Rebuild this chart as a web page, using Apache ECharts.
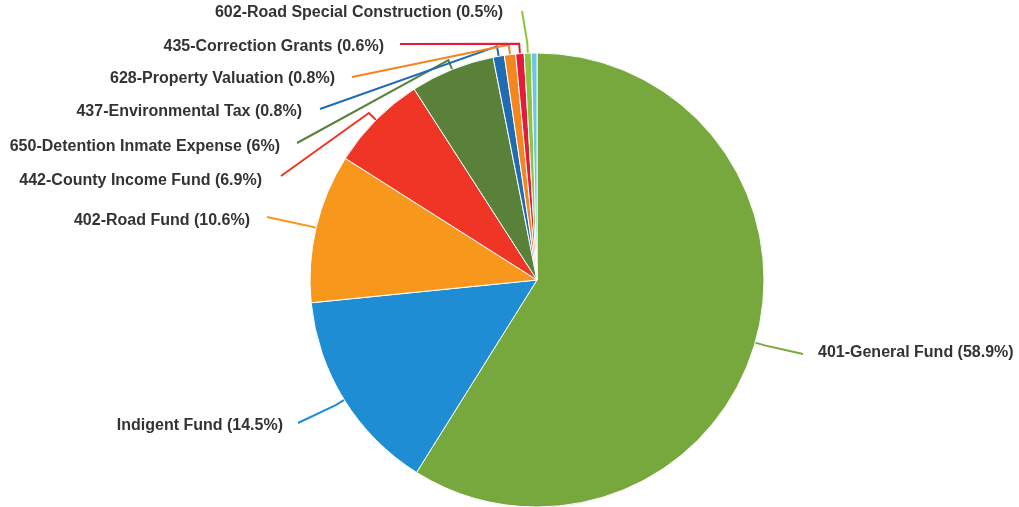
<!DOCTYPE html>
<html>
<head>
<meta charset="utf-8">
<script src="https://cdn.jsdelivr.net/npm/echarts@6/dist/echarts.min.js"></script>
<style>
  html, body { margin: 0; padding: 0; background: #fff; }
  #chart { width: 1019px; height: 507px; }
</style>
</head>
<body>
<div id="chart"></div>
<script>
const FUND_NAMES = [
  '401-General Fund',
  'Indigent Fund',
  '402-Road Fund',
  '442-County Income Fund',
  '650-Detention Inmate Expense',
  '437-Environmental Tax',
  '628-Property Valuation',
  '435-Correction Grants',
  '602-Road Special Construction',
  'Other'
]
const FUND_SHARES = [58.9, 14.5, 10.6, 6.9, 6, 0.8, 0.8, 0.6, 0.5, 0.4]
const FUND_COLORS = [
  '#77a83d', '#1f8dd3', '#f7981d', '#ef3526', '#5a813a',
  '#1f6cb3', '#f5861f', '#e11d3a', '#8cc63f', '#6cc4e6'
]

// where each label sits and where its guide line ends (left side labels are right aligned)
const LABEL_SPOTS = [
  { x: 818, y: 353, align: 'left', line: [803, 354] },
  { x: 283, y: 426, align: 'right', line: [298, 423] },
  { x: 250, y: 221, align: 'right', line: [267, 217] },
  { x: 262, y: 181, align: 'right', line: [281, 176] },
  { x: 280, y: 147, align: 'right', line: [297, 143] },
  { x: 302, y: 112, align: 'right', line: [320, 109] },
  { x: 335, y: 79, align: 'right', line: [352, 77] },
  { x: 384, y: 47, align: 'right', line: [400, 44] },
  { x: 503, y: 13, align: 'right', line: [522, 11] }
]

const chart = echarts.init(document.getElementById('chart'), null, { renderer: 'canvas' })

chart.setOption({
  backgroundColor: '#fff',
  animation: false,
  series: [{
    type: 'pie',
    center: [537, 280],
    radius: 227,
    startAngle: 90,
    clockwise: true,
    avoidLabelOverlap: false,
    itemStyle: { borderColor: '#fff', borderWidth: 1 },
    label: {
      show: true,
      position: 'outside',
      color: '#333',
      fontFamily: '"Liberation Sans", Arial, sans-serif',
      fontWeight: 'bold',
      fontSize: 16,
      formatter: (p) => `${p.name} (${p.value}%)`
    },
    labelLine: {
      show: true,
      length: 10,
      length2: 10,
      lineStyle: { width: 2 }
    },
    labelLayout: (params) => {
      const spot = LABEL_SPOTS[params.dataIndex]
      if (!spot) return {}
      const pts = params.labelLinePoints
      const out = { x: spot.x, y: spot.y, align: spot.align, verticalAlign: 'middle' }
      if (pts) out.labelLinePoints = [pts[0], pts[1], spot.line]
      return out
    },
    emphasis: { disabled: true },
    data: FUND_NAMES.map((name, i) => {
      const item = { name, value: FUND_SHARES[i], itemStyle: { color: FUND_COLORS[i] } }
      if (i >= LABEL_SPOTS.length) {
        item.label = { show: false }
        item.labelLine = { show: false }
      }
      return item
    })
  }]
})
</script>
</body>
</html>
